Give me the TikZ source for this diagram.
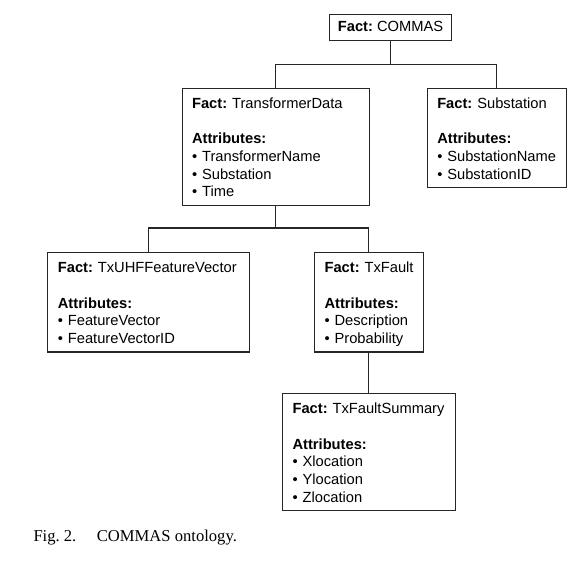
\documentclass[tikz,border=0pt]{standalone}
\usepackage{fontspec}
\setmainfont{Liberation Sans}
\newfontfamily\capfont{Liberation Serif}
\frenchspacing
\hyphenpenalty=10000\relax
\newcommand{\factlbl}[1]{\mbox{\textbf{Fact:} #1}}
\newcommand{\attrlbl}{\textbf{Attributes:}}
\begin{document}
\begin{tikzpicture}[x=1pt,y=-1pt,
  factbox/.style={draw=black!85, line width=1.1pt, anchor=north west,
    inner xsep=10pt, inner ysep=3pt, align=left,
    font=\fontsize{14.7}{17.7}\selectfont},
  link/.style={draw=black!85, line width=1.1pt}]
\useasboundingbox (0,0) rectangle (586,565);

\node[factbox, inner xsep=8pt, inner ysep=4pt] (commas) at (329.3,14.3)
  {\strut\factlbl{COMMAS}};

\node[factbox, text width=167.3pt] (td) at (181.5,87.5)
  {\rule{0pt}{17.3pt}\factlbl{TransformerData}\\[17.7pt]
   \attrlbl\\
   •~TransformerName\\
   •~Substation\\
   •~Time\strut};

\node[factbox, text width=119.3pt] (sub) at (426.7,87.5)
  {\rule{0pt}{17.3pt}\factlbl{Substation}\\[17.7pt]
   \attrlbl\\
   •~SubstationName\\
   •~SubstationID\strut};

\node[factbox, text width=181.7pt] (uhf) at (47.3,252)
  {\rule{0pt}{17.3pt}\factlbl{TxUHFFeatureVector}\\[17.7pt]
   \attrlbl\\
   •~FeatureVector\\
   •~FeatureVectorID\strut};

\node[factbox, text width=88.7pt] (fault) at (314,252)
  {\rule{0pt}{17.3pt}\factlbl{TxFault}\\[17.7pt]
   \attrlbl\\
   •~Description\\
   •~Probability\strut};

\node[factbox, text width=152.7pt] (summ) at (282,393)
  {\rule{0pt}{17.3pt}\factlbl{TxFaultSummary}\\[17.7pt]
   \attrlbl\\
   •~Xlocation\\
   •~Ylocation\\
   •~Zlocation\strut};

\coordinate (j1) at (commas.south |- 0,64.3);
\coordinate (j2) at (td.south |- 0,228);

\draw[link] (commas.south) -- (j1);
\draw[link] (td.north) |- (j1) -| (sub.north);
\draw[link] (td.south) -- (j2);
\draw[link] (uhf.north) |- (j2) -| (fault.north);
\draw[link] (fault.south) -- (summ.north);

\node[anchor=base west, inner sep=0pt, font=\capfont\fontsize{16.6}{20}\selectfont] (cap) at (33.3,541)
  {Fig. 2.\hspace{20.5pt}COMMAS ontology.};
\end{tikzpicture}
\end{document}
